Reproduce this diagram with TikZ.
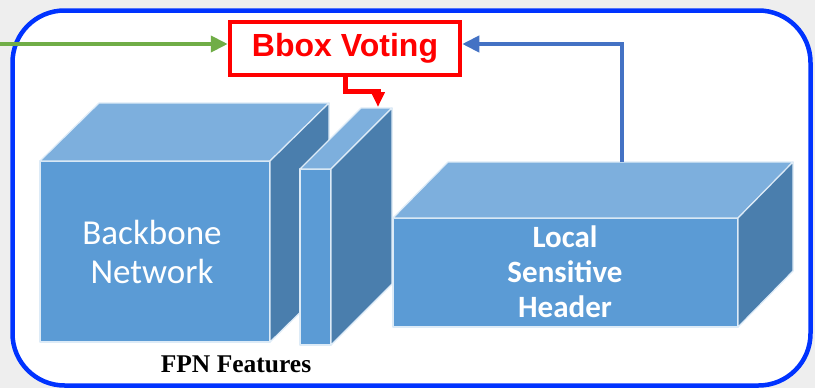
\documentclass[tikz,border=0pt]{standalone}
\usepackage{fontspec}
\setmainfont{Liberation Serif}
\newfontfamily\labelfont{Carlito}
\newfontfamily\votefont{Liberation Sans}
\usetikzlibrary{arrows.meta,calc}

\definecolor{pagegrey}{HTML}{EEEEEE}
\definecolor{frameblue}{HTML}{0033FF}
\definecolor{facefront}{HTML}{5B9BD5}
\definecolor{facetop}{HTML}{7DAFDD}
\definecolor{faceside}{HTML}{4A7EAD}
\definecolor{faceedge}{HTML}{DDEBF7}
\definecolor{linkgreen}{HTML}{70AD47}
\definecolor{linkblue}{HTML}{4472C4}
\definecolor{votered}{HTML}{FF0000}

\tikzset{
  front/.style={fill=facefront, draw=faceedge, line width=1.2pt, line join=round},
  topface/.style={fill=facetop, draw=faceedge, line width=1.2pt, line join=round},
  sideface/.style={fill=faceside, draw=faceedge, line width=1.2pt, line join=round},
  votebox/.style={draw=votered, line width=4.5pt, fill=white, text=votered,
    font=\votefont\bfseries\fontsize{32}{36}\selectfont,
    minimum width=230pt, minimum height=53pt, inner sep=0pt},
  link/.style={line width=4pt, -{Triangle[length=17pt,width=16pt]}},
  blocklabel/.style={text=white, align=center, inner sep=0pt},
}

\begin{document}
\begin{tikzpicture}[x=1pt,y=-1pt]
  % page and framed panel
  \fill[pagegrey] (0,0) rectangle (815,388);
  \useasboundingbox (0,0) rectangle (815,388);
  \draw[frameblue, fill=white, line width=4.5pt, rounded corners=52pt]
    (12.5,10.5) rectangle (810.5,385.5);

  % backbone block
  \draw[front] (40,161) rectangle (270,342);
  \draw[topface] (40,161) -- (99,103) -- (329,103) -- (270,161) -- cycle;
  \draw[sideface] (270,161) -- (329,103) -- (329,284) -- (270,342) -- cycle;

  % FPN slab
  \draw[front] (300,169) rectangle (331,345);
  \draw[topface] (300,169) -- (361,108) -- (392,108) -- (331,169) -- cycle;
  \draw[sideface] (331,169) -- (392,108) -- (392,284) -- (331,345) -- cycle;

  % header block
  \draw[front] (393,218) rectangle (738,327);
  \draw[topface] (393,218) -- (448,162) -- (793,162) -- (738,218) -- cycle;
  \draw[sideface] (738,218) -- (793,162) -- (793,271) -- (738,327) -- cycle;

  % labels
  \node[blocklabel, font=\labelfont\fontsize{35}{39}\selectfont] (backbone)
    at (152,252) {Backbone\\Network};
  \node[blocklabel, font=\labelfont\bfseries\fontsize{31}{35}\selectfont] (header)
    at (565,272) {Local\\Sensitive\\ Header};
  \node[anchor=base, inner sep=0pt, font=\bfseries\fontsize{25.5}{28}\selectfont] (fpn)
    at (236,372) {FPN Features};

  % voting box
  \node[votebox] (vote) at (345,48.5) {Bbox Voting};

  % connector end points
  \coordinate (src) at (0,44);
  \coordinate (headtop) at (621.5,162);
  \coordinate (fpntop) at (378,107);

  % connectors
  \draw[link, linkgreen] (src) -- ($(vote.west)+(0,-4.5)$);
  \draw[link, linkblue] (headtop) |- ($(vote.east)+(0,-4.5)$);
  \draw[votered, line width=5pt, -{Triangle[length=15pt,width=13pt]}]
    (vote.south) -- ++(0,14) -| (fpntop);
\end{tikzpicture}
\end{document}
